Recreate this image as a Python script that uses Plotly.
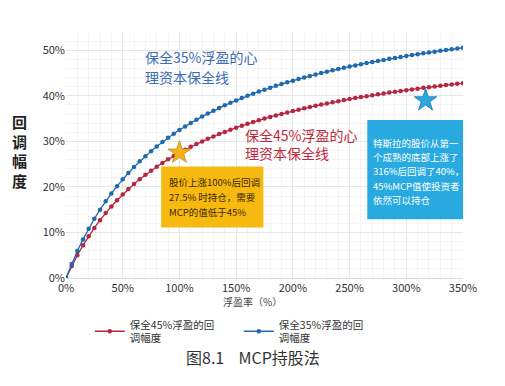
import plotly.graph_objects as go

# ---- data ----
profit_pct = [0, 5, 10, 15, 20, 25, 30, 35, 40, 45, 50, 55, 60, 65, 70, 75, 80, 85, 90, 95,
              100, 105, 110, 115, 120, 125, 130, 135, 140, 145, 150, 155, 160, 165, 170, 175,
              180, 185, 190, 195, 200, 205, 210, 215, 220, 225, 230, 235, 240, 245, 250, 255,
              260, 265, 270, 275, 280, 285, 290, 295, 300, 305, 310, 315, 320, 325, 330, 335,
              340, 345, 350]
keep45_drawdown = [0, 2.62, 5.00, 7.17, 9.17, 11.00, 12.69, 14.26, 15.71, 17.07, 18.33, 19.52,
                   20.63, 21.67, 22.65, 23.57, 24.44, 25.27, 26.05, 26.79, 27.50, 28.17, 28.81,
                   29.42, 30.00, 30.56, 31.09, 31.60, 32.08, 32.55, 33.00, 33.43, 33.85, 34.25,
                   34.63, 35.00, 35.36, 35.70, 36.03, 36.36, 36.67, 36.97, 37.26, 37.54, 37.81,
                   38.08, 38.33, 38.58, 38.82, 39.06, 39.29, 39.51, 39.72, 39.93, 40.13, 40.33,
                   40.53, 40.71, 40.90, 41.08, 41.25, 41.42, 41.58, 41.75, 41.90, 42.06, 42.21,
                   42.36, 42.50, 42.64, 42.78]
keep35_drawdown = [0, 3.10, 5.91, 8.48, 10.83, 13.00, 15.00, 16.85, 18.57, 20.17, 21.67, 23.06,
                   24.38, 25.61, 26.76, 27.86, 28.89, 29.86, 30.79, 31.67, 32.50, 33.29, 34.05,
                   34.77, 35.45, 36.11, 36.74, 37.34, 37.92, 38.47, 39.00, 39.51, 40.00, 40.47,
                   40.93, 41.36, 41.79, 42.19, 42.59, 42.97, 43.33, 43.69, 44.03, 44.37, 44.69,
                   45.00, 45.30, 45.60, 45.88, 46.16, 46.43, 46.69, 46.94, 47.19, 47.43, 47.67,
                   47.89, 48.12, 48.33, 48.54, 48.75, 48.95, 49.15, 49.34, 49.52, 49.71, 49.88,
                   50.06, 50.23, 50.39, 50.56]
x_ticks = [0, 50, 100, 150, 200, 250, 300, 350]
x_tick_labels = ["0%", "50%", "100%", "150%", "200%", "250%", "300%", "350%"]
y_ticks = [0, 10, 20, 30, 40, 50]
y_tick_labels = ["0%", "10%", "20%", "30%", "40%", "50%"]
star_tsla = (317, 39)
star_100 = (100, 27.5)

FONT = "Noto Sans CJK SC"
RED = "#b5263f"
BLUE = "#1f6aad"

fig = go.Figure()
fig.add_trace(go.Scatter(x=profit_pct, y=keep45_drawdown, mode="lines+markers",
                         name="保全45%浮盈的回<br>调幅度",
                         line=dict(color=RED, width=1.3),
                         marker=dict(color=RED, size=4.5)))
fig.add_trace(go.Scatter(x=profit_pct, y=keep35_drawdown, mode="lines+markers",
                         name="保全35%浮盈的回<br>调幅度",
                         line=dict(color=BLUE, width=1.3),
                         marker=dict(color=BLUE, size=4.5)))
fig.add_trace(go.Scatter(x=[star_100[0]], y=[star_100[1]], mode="markers", showlegend=False,
                         marker=dict(symbol="star", size=17, color="#f6b21b",
                                     line=dict(color="#c98a10", width=0.8))))
fig.add_trace(go.Scatter(x=[star_tsla[0]], y=[star_tsla[1]], mode="markers", showlegend=False,
                         marker=dict(symbol="star", size=17, color="#2aa7df",
                                     line=dict(color="#1a78ad", width=0.8))))

# boxes
fig.add_shape(type="rect", x0=83.9, x1=174.0, y0=11.1, y1=24.5, xref="x", yref="y",
              fillcolor="#f7b80f", line=dict(width=0), layer="above")
fig.add_shape(type="rect", x0=265.6, x1=350, y0=12.9, y1=34.7, xref="x", yref="y",
              fillcolor="#28aae1", line=dict(width=0), layer="above")

ann = []
orange_lines = ["股价上涨100%后回调", "27.5% 时持仓，需要", "MCP的值低于45%"]
for i, t in enumerate(orange_lines):
    ann.append(dict(x=89.2, y=21.0 - i * 3.2, xref="x", yref="y", text=t, showarrow=False,
                    xanchor="left", yanchor="middle",
                    font=dict(family=FONT, size=9.5, color="#3a2a00")))
blue_lines = ["特斯拉的股价从第一", "个成熟的底部上涨了", "316%后回调了40%，",
              "45%MCP值使投资者", "依然可以持仓"]
for i, t in enumerate(blue_lines):
    ann.append(dict(x=268.5, y=29.7 - i * 3.13, xref="x", yref="y", text=t, showarrow=False,
                    xanchor="left", yanchor="middle",
                    font=dict(family=FONT, size=9.5, color="#ffffff")))

for i, t in enumerate(["保全35%浮盈的心", "理资本保全线"]):
    ann.append(dict(x=68, y=48.5 - i * 4.4, xref="x", yref="y", text=t, showarrow=False,
                    xanchor="left", yanchor="middle",
                    font=dict(family=FONT, size=14, color="#3b6cb4")))
for i, t in enumerate(["保全45%浮盈的心", "理资本保全线"]):
    ann.append(dict(x=156, y=31.4 - i * 4.0, xref="x", yref="y", text=t, showarrow=False,
                    xanchor="left", yanchor="middle",
                    font=dict(family=FONT, size=14, color="#c0283c")))

# y-axis title (vertical chars)
for i, t in enumerate(["回", "调", "幅", "度"]):
    ann.append(dict(x=-0.118, y=0.638 - i * 0.08, xref="paper", yref="paper", text=t,
                    showarrow=False, xanchor="center", yanchor="middle",
                    font=dict(family=FONT, size=15, color="#222222", weight="bold")))
# x-axis title
ann.append(dict(x=0.47, y=-0.094, xref="paper", yref="paper", text="浮盈率（%）",
                showarrow=False, xanchor="center", yanchor="middle",
                font=dict(family=FONT, size=10, color="#444444")))
# caption
ann.append(dict(x=0.47, y=-0.322, xref="paper", yref="paper", text="图8.1    MCP持股法",
                showarrow=False, xanchor="center", yanchor="middle",
                font=dict(family=FONT, size=16, color="#333333")))

# page body has an 8px margin: figure is sized/offset to compensate
fig.update_layout(
    width=489, height=370,
    margin=dict(l=58, r=34, t=25, b=100),
    paper_bgcolor="white", plot_bgcolor="white",
    font=dict(family=FONT, size=11, color="#333333"),
    annotations=ann,
    legend=dict(orientation="h", x=0.06, xanchor="left", y=-0.135, yanchor="top",
                font=dict(family=FONT, size=10.5, color="#333333"),
                itemwidth=30, entrywidth=104, entrywidthmode="pixels",
                bgcolor="rgba(0,0,0,0)"),
)
fig.update_xaxes(range=[0, 350], tickvals=x_ticks, ticktext=x_tick_labels,
                 showgrid=True, gridcolor="#e6e6e6", gridwidth=1,
                 minor=dict(dtick=10, showgrid=True, gridcolor="#f4f4f4"),
                 showline=True, linecolor="#d9d9d9", zeroline=False,
                 tickfont=dict(size=11, color="#333333"), ticks="")
fig.update_yaxes(range=[0, 53.8], tickvals=y_ticks, ticktext=y_tick_labels,
                 showgrid=True, gridcolor="#e6e6e6", gridwidth=1,
                 minor=dict(dtick=2, showgrid=True, gridcolor="#f4f4f4"),
                 showline=False, zeroline=False,
                 tickfont=dict(size=11, color="#333333"), ticks="")

fig.write_html("out.html")
